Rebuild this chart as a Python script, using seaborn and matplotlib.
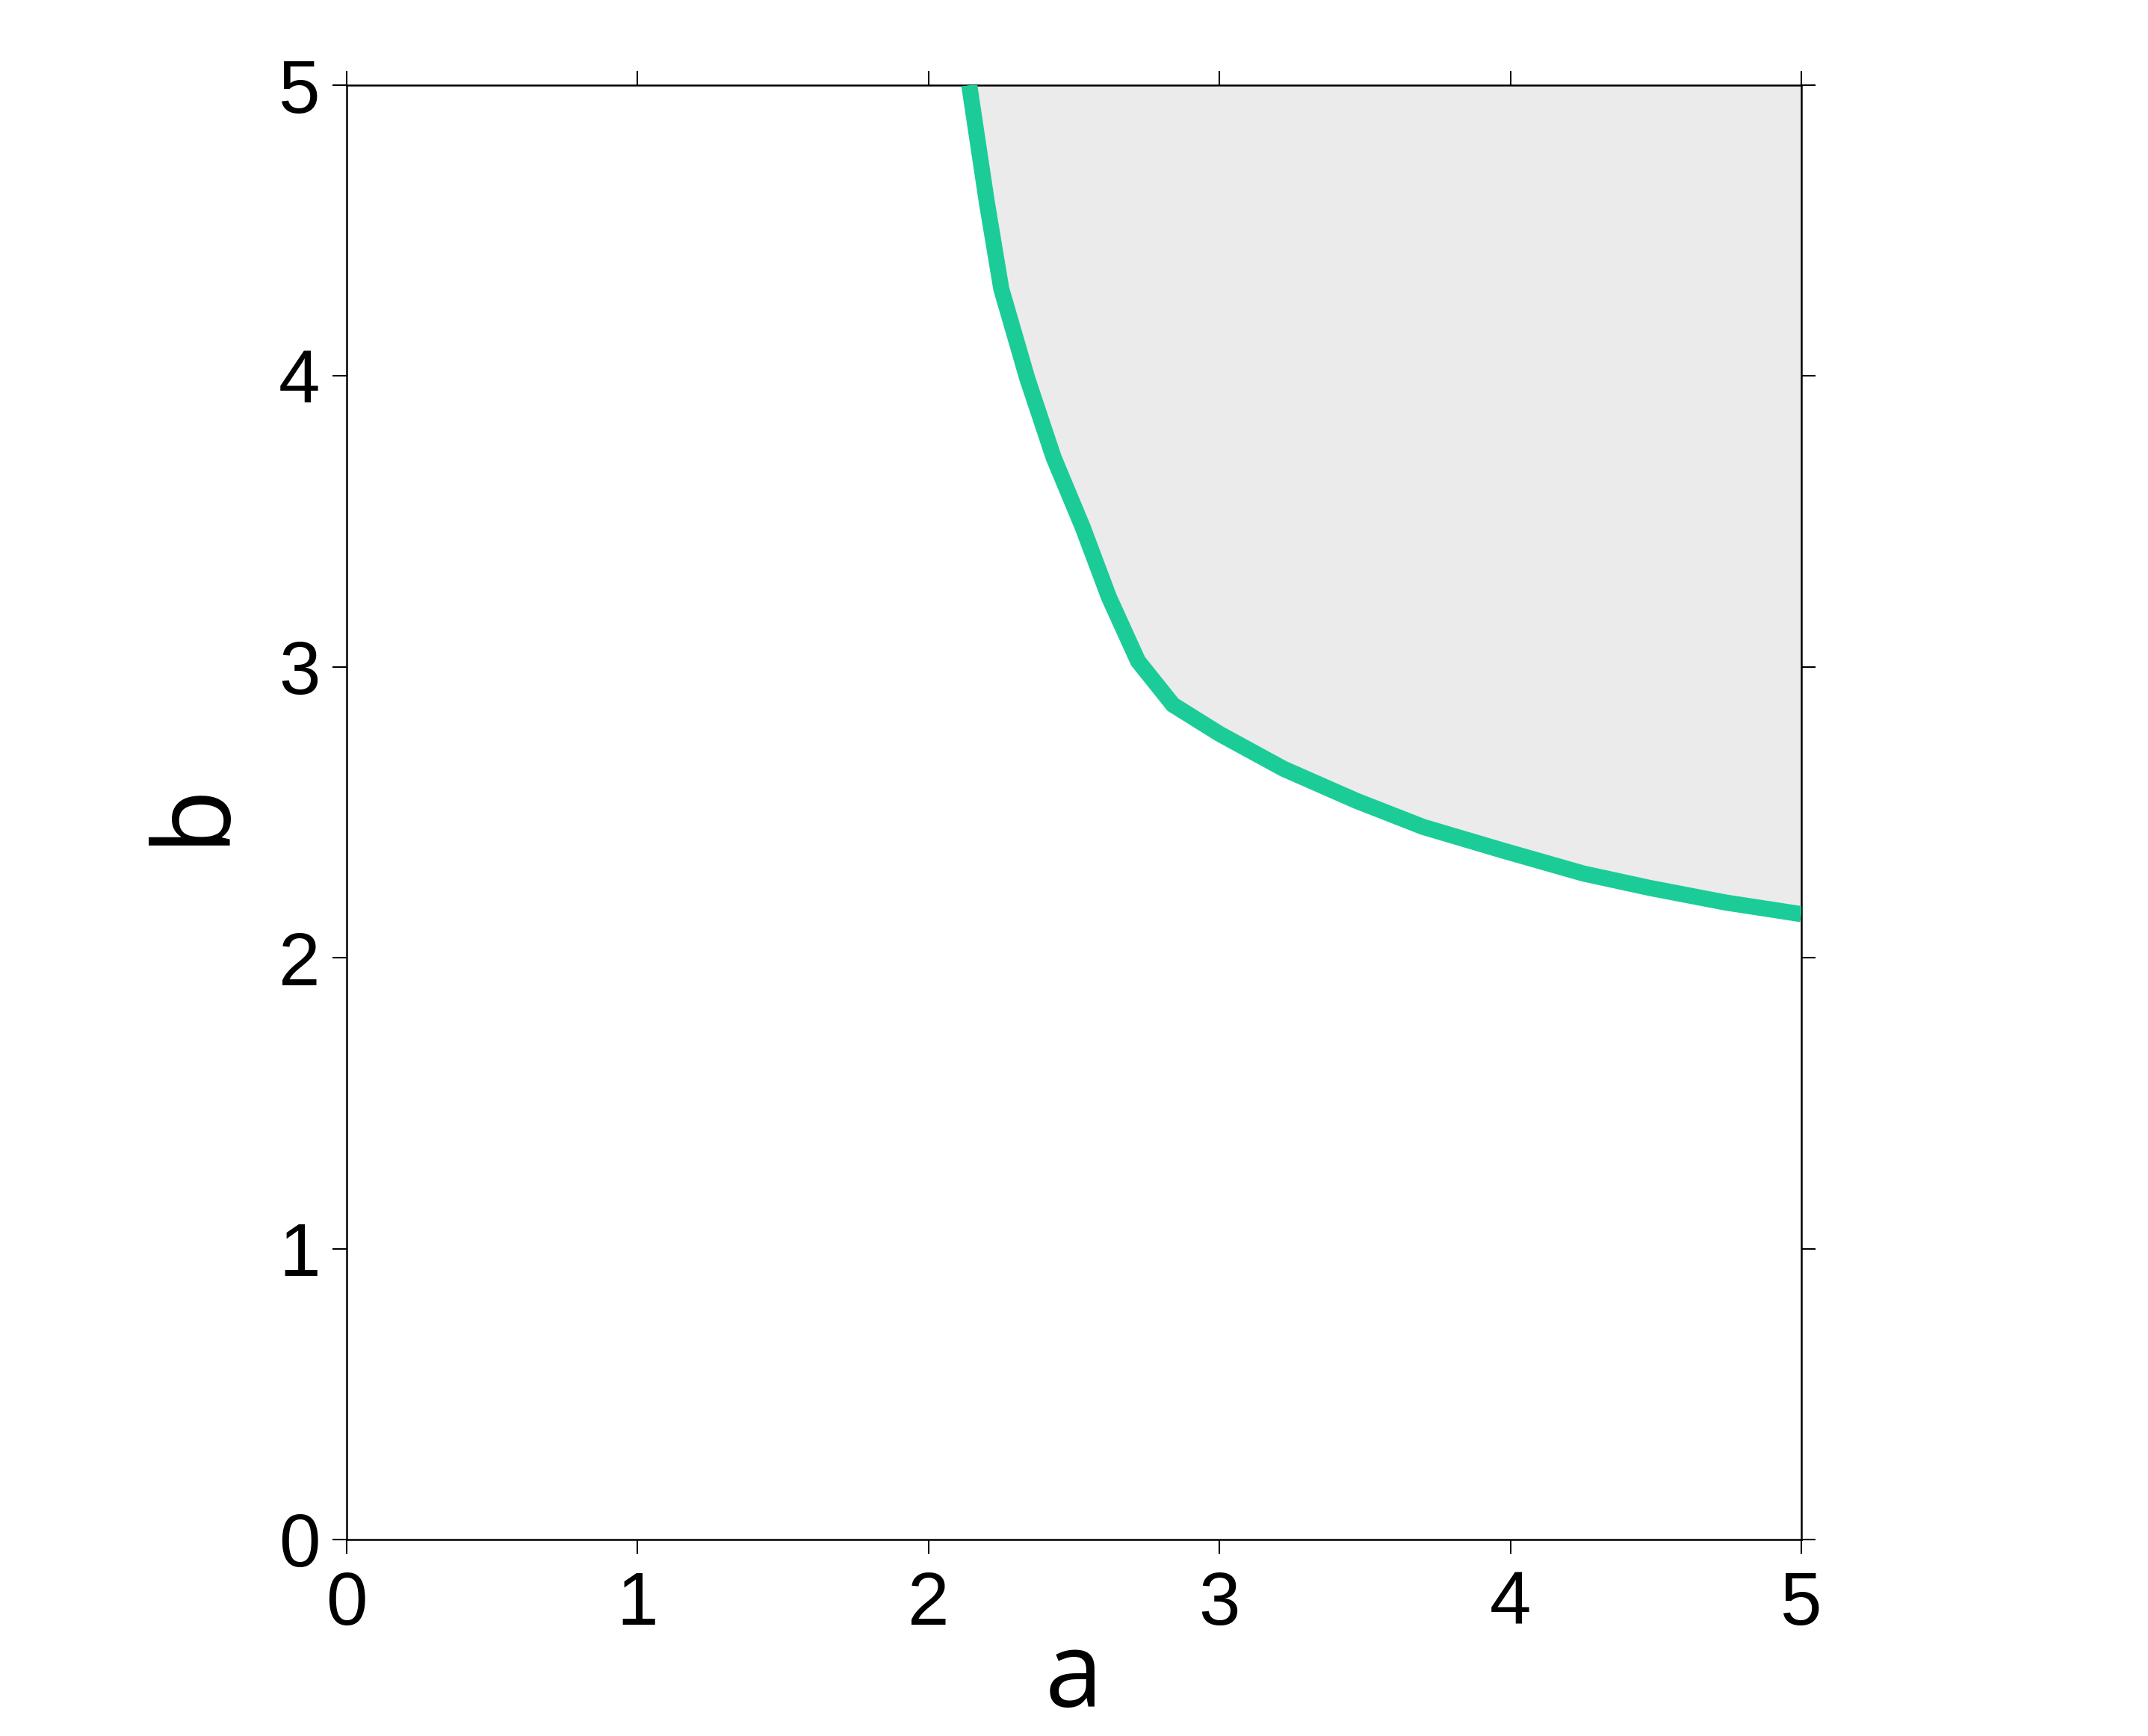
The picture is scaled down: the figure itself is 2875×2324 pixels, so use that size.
import matplotlib
matplotlib.use("Agg")
import matplotlib.pyplot as plt
import seaborn as sns
import pandas as pd

# ---- data ----
a_vals = [2.14, 2.20, 2.25, 2.34, 2.43, 2.53, 2.62, 2.72, 2.84,
          3.00, 3.22, 3.47, 3.70, 3.97, 4.25, 4.48, 4.74, 5.00]
b_vals = [5.00, 4.60, 4.30, 3.99, 3.72, 3.48, 3.24, 3.02, 2.87,
          2.77, 2.65, 2.54, 2.45, 2.37, 2.29, 2.24, 2.19, 2.15]
x_ticks = [0, 1, 2, 3, 4, 5]
y_ticks = [0, 1, 2, 3, 4, 5]
x_label = "a"
y_label = "b"

df = pd.DataFrame({"a": a_vals, "b": b_vals})

sns.set_theme(style="ticks")
plt.rcParams["font.family"] = ["Liberation Sans", "DejaVu Sans"]
plt.rcParams["text.color"] = "black"
plt.rcParams["axes.labelcolor"] = "black"

fig = plt.figure(figsize=(28.75, 23.24), dpi=100)
ax = fig.add_axes([0.1614, 0.1132, 0.6772, 0.8377])

ax.fill_between(df["a"], df["b"], 5, color="#ebebeb", linewidth=0, zorder=1)
sns.lineplot(data=df, x="a", y="b", sort=False, color="#1ccc98",
             linewidth=15.5, ax=ax, zorder=3)
for ln in ax.lines:
    ln.set_solid_joinstyle("miter")
    ln.set_solid_capstyle("butt")

ax.set_xlim(0, 5)
ax.set_ylim(0, 5)
ax.set_xticks(x_ticks)
ax.set_yticks(y_ticks)
ax.set_xticklabels([str(t) for t in x_ticks])
ax.set_yticklabels([str(t) for t in y_ticks])

for s in ax.spines.values():
    s.set_visible(True)
    s.set_linewidth(1.8)
    s.set_color("black")

ax.tick_params(axis="both", which="major", direction="out", length=13.5,
               width=1.5, color="black", labelsize=72, labelcolor="black",
               top=True, right=True, labeltop=False, labelright=False)
ax.tick_params(axis="x", pad=16)
ax.tick_params(axis="y", pad=12)
for lbl in ax.get_xticklabels() + ax.get_yticklabels():
    lbl.set_fontweight("medium")

ax.set_xlabel(x_label, fontsize=100, color="black",
              family=["Open Sans", "DejaVu Sans"], labelpad=-12)
ax.set_ylabel(y_label, fontsize=102, color="black",
              family=["Open Sans", "DejaVu Sans"], labelpad=30)
ax.set_facecolor("white")
fig.patch.set_facecolor("white")

fig.savefig("out.png", dpi=100, facecolor="white")
